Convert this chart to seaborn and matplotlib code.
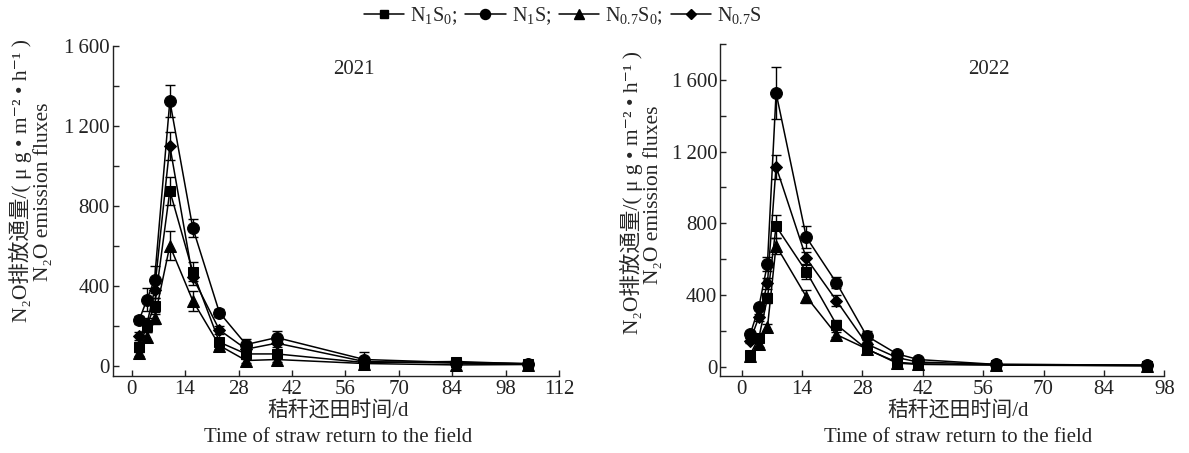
import matplotlib
matplotlib.use("Agg")
import matplotlib.pyplot as plt
from matplotlib.lines import Line2D
import seaborn as sns
import pandas as pd

# ---------------- data ----------------
treatments = ["N1S0", "N1S", "N07S0", "N07S"]
legend_labels = [r"N$_{1}$S$_{0}$;", r"N$_{1}$S;", r"N$_{0.7}$S$_{0}$;", r"N$_{0.7}$S"]

days_2021 = [2, 4, 6, 10, 16, 23, 30, 38, 61, 85, 104]
n1s0_2021 = [95, 200, 300, 875, 470, 117, 58, 58, 15, 20, 8]
n1s_2021 = [230, 330, 430, 1325, 690, 265, 105, 140, 30, 15, 10]
n07s0_2021 = [62, 145, 237, 600, 325, 100, 25, 30, 10, 3, 5]
n07s_2021 = [148, 208, 378, 1100, 442, 178, 82, 112, 20, 12, 8]
n1s0_2021_err = [25, 30, 40, 70, 47, 20, 15, 15, 8, 6, 4]
n1s_2021_err = [20, 57, 67, 80, 45, 20, 30, 32, 40, 6, 5]
n07s0_2021_err = [15, 25, 30, 72, 50, 15, 10, 10, 6, 3, 3]
n07s_2021_err = [20, 30, 40, 70, 40, 20, 20, 20, 8, 5, 4]

days_2022 = [2, 4, 6, 8, 15, 22, 29, 36, 41, 59, 94]
n1s0_2022 = [67, 160, 383, 783, 530, 234, 97, 24, 15, 10, 5]
n1s_2022 = [179, 331, 573, 1527, 722, 467, 171, 71, 39, 12, 8]
n07s0_2022 = [60, 126, 219, 675, 390, 178, 99, 19, 12, 8, 4]
n07s_2022 = [145, 275, 465, 1116, 605, 368, 126, 50, 25, 12, 8]
n1s0_2022_err = [10, 20, 30, 65, 39, 25, 10, 6, 4, 3, 3]
n1s_2022_err = [20, 15, 40, 147, 60, 31, 25, 10, 6, 4, 3]
n07s0_2022_err = [8, 15, 20, 45, 35, 15, 8, 5, 3, 3, 2]
n07s_2022_err = [15, 20, 30, 67, 35, 30, 10, 6, 4, 3, 3]

years = ["2021", "2022"]
x_ticks_2021 = [0, 14, 28, 42, 56, 70, 84, 98, 112]
x_ticks_2022 = [0, 14, 28, 42, 56, 70, 84, 98]
y_ticks_2021 = [0, 400, 800, 1200, 1600]
y_ticks_2022 = [0, 400, 800, 1200, 1600]
y_ticklabels = ["0", "400", "800", "1\u2009200", "1\u2009600"]
xlabel_cn = "秸秆还田时间/d"
xlabel_en = "Time of straw return to the field"
ylabel_cn = "N\u2082O排放通量/( μ g • m\u207b\u00b2 • h\u207b\u00b9 )"
ylabel_en = "N\u2082O emission fluxes"

markers = {"N1S0": "s", "N1S": "o", "N07S0": "^", "N07S": "D"}
msizes = {"N1S0": 7, "N1S": 8.5, "N07S0": 8.5, "N07S": 6.5}

# ---------------- style ----------------
sns.set_style("ticks")
plt.rcParams["font.family"] = ["Liberation Serif", "DejaVu Serif", "Noto Sans CJK SC"]
plt.rcParams["mathtext.fontset"] = "custom"
plt.rcParams["mathtext.rm"] = "Liberation Serif"
plt.rcParams["mathtext.it"] = "Liberation Serif:italic"
plt.rcParams["axes.unicode_minus"] = False
plt.rcParams["xtick.direction"] = "in"
plt.rcParams["ytick.direction"] = "in"

fig = plt.figure(figsize=(11.89, 4.53), dpi=100)
W, H = 1189.0, 453.0


def px_axes(x0, x1, ytop, ybot):
    return fig.add_axes([x0 / W, 1 - ybot / H, (x1 - x0) / W, (ybot - ytop) / H])


ax1 = px_axes(112.6, 559.0, 46.0, 375.5)
ax2 = px_axes(720.0, 1164.3, 44.0, 375.5)

panels = [
    (ax1, days_2021,
     [n1s0_2021, n1s_2021, n07s0_2021, n07s_2021],
     [n1s0_2021_err, n1s_2021_err, n07s0_2021_err, n07s_2021_err],
     (-5, 112), (-50, 1600), x_ticks_2021, y_ticks_2021),
    (ax2, days_2022,
     [n1s0_2022, n1s_2022, n07s0_2022, n07s_2022],
     [n1s0_2022_err, n1s_2022_err, n07s0_2022_err, n07s_2022_err],
     (-5, 98), (-50, 1800), x_ticks_2022, y_ticks_2022),
]

for ax, days, vals, errs, xl, yl, xt, yt in panels:
    rows = []
    for t, v in zip(treatments, vals):
        for d, f in zip(days, v):
            rows.append({"day": d, "flux": f, "treatment": t})
    df = pd.DataFrame(rows)
    for t, v, e in zip(treatments, vals, errs):
        ax.errorbar(days, v, yerr=e, fmt="none", ecolor="black",
                    elinewidth=1.0, capsize=3.5, capthick=1.0, zorder=2)
        sns.lineplot(data=df[df["treatment"] == t], x="day", y="flux",
                     marker=markers[t], markersize=msizes[t], color="black",
                     markeredgecolor="black", linewidth=1.1, ax=ax,
                     legend=False, zorder=3)
    ax.set_xlim(*xl)
    ax.set_ylim(*yl)
    ax.set_xticks(xt)
    ax.set_xticklabels([str(v) for v in xt])
    ax.set_yticks(yt)
    ax.set_yticklabels(y_ticklabels)
    ax.set_yticks([v + 200 for v in yt if v + 200 <= yl[1]], minor=True)
    ax.tick_params(axis="both", which="both", direction="in", length=4.5,
                   width=1.0, labelsize=15, colors="#222222")
    ax.tick_params(axis="y", which="major", pad=2)
    ax.tick_params(axis="x", which="major", pad=3)
    ax.set_xlabel("")
    ax.set_ylabel("")
    for s in ["top", "right"]:
        ax.spines[s].set_visible(False)
    for s in ["left", "bottom"]:
        ax.spines[s].set_linewidth(1.0)
        ax.spines[s].set_color("#222222")

# year annotations
fig.text(354 / W, 1 - 70 / H, years[0], ha="center", va="center", fontsize=15)
fig.text(989 / W, 1 - 70 / H, years[1], ha="center", va="center", fontsize=15)

# x labels
fig.text(338 / W, 1 - 412 / H, xlabel_cn, ha="center", va="center", fontsize=15)
fig.text(338 / W, 1 - 438 / H, xlabel_en, ha="center", va="center", fontsize=15)
fig.text(958 / W, 1 - 412 / H, xlabel_cn, ha="center", va="center", fontsize=15)
fig.text(958 / W, 1 - 437 / H, xlabel_en, ha="center", va="center", fontsize=15)

# y labels
fig.text(20 / W, 1 - 180 / H, ylabel_cn, ha="center", va="center", rotation=90, fontsize=15.5)
fig.text(44 / W, 1 - 192 / H, ylabel_en, ha="center", va="center", rotation=90, fontsize=15.5)
fig.text(631 / W, 1 - 192 / H, ylabel_cn, ha="center", va="center", rotation=90, fontsize=15.5)
fig.text(653 / W, 1 - 195 / H, ylabel_en, ha="center", va="center", rotation=90, fontsize=15.5)

# legend
handles = [Line2D([0], [0], color="black", lw=1.1, marker=markers[t],
                  markersize=msizes[t] * 0.85) for t in treatments]
fig.legend(handles, legend_labels, loc="center", bbox_to_anchor=(563 / W, 1 - 16 / H),
           ncol=4, frameon=False, fontsize=14.5, handlelength=2.0, handletextpad=0.3,
           columnspacing=0.4, borderaxespad=0)

fig.savefig("out.png", dpi=100)
